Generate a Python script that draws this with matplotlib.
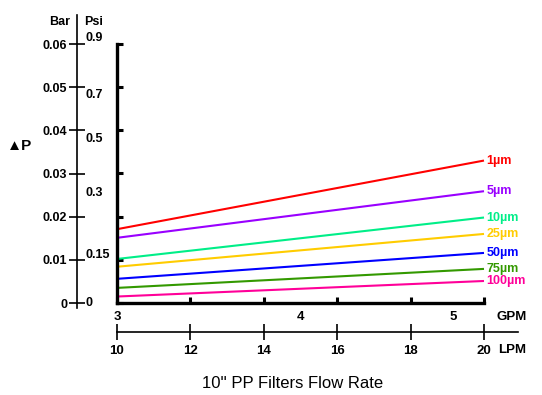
import matplotlib
matplotlib.use("Agg")
import matplotlib.pyplot as plt

plt.rcParams['font.family'] = ['Liberation Sans', 'DejaVu Sans']

# flow rate (LPM) and pressure drop (bar) at each end of the range
lpm = [10, 20]
grades = ['1µm', '5µm', '10µm', '25µm', '50µm', '75µm', '100µm']
dp_start = [0.0171, 0.0151, 0.0102, 0.0084, 0.0056, 0.0035, 0.0015]
dp_end = [0.0330, 0.0259, 0.0198, 0.0160, 0.0116, 0.0079, 0.0051]
colors = ['#ff0000', '#9900ff', '#00ee88', '#ffcc00', '#0000ff', '#339900', '#ff0099']

bar_ticks = [0, 0.01, 0.02, 0.03, 0.04, 0.05, 0.06]
psi_labels = ['0', '0.15', '0.3', '0.5', '0.7', '0.9']
psi_pos = [0, 0.0111, 0.0255, 0.0380, 0.0482, 0.0614]
lpm_ticks = [10, 12, 14, 16, 18, 20]
gpm_labels = ['3', '4', '5']
gpm_pos = [10, 15, 19.16]

W, H = 542, 395
fig = plt.figure(figsize=(W / 100, H / 100), dpi=100)


def box(x0, y0, x1, y1):
    # pixel box (top-left origin) -> figure fraction
    return [x0 / W, 1 - y1 / H, (x1 - x0) / W, (y1 - y0) / H]


# main chart
ax = fig.add_axes(box(117, 44, 484, 303))
ax.patch.set_visible(False)
ax.set_zorder(3)
for s, c, e, lab in zip(dp_start, colors, dp_end, grades):
    ax.plot(lpm, [s, e], color=c, lw=1.5, solid_capstyle='butt', clip_on=False)
    ax.text(20.06, e, lab, color=c, fontsize=9, fontweight='bold', va='center', ha='left')
ax.set_xlim(10, 20)
ax.set_ylim(0, 0.06)
for sp in ['top', 'right']:
    ax.spines[sp].set_visible(False)
for sp in ['left', 'bottom']:
    ax.spines[sp].set_linewidth(2.4)
    ax.spines[sp].set_capstyle('projecting')
ax.set_xticks(lpm_ticks)
ax.set_yticks(bar_ticks)
ax.tick_params(direction='in', length=4, width=2.2, labelleft=False, labelbottom=False)

# bar / psi scale
y_lo = -5 * 0.06 / 259
y_hi = 0.06 + 29 * 0.06 / 259
ax2 = fig.add_axes(box(77, 15, 80, 308))
ax2.patch.set_visible(False)
ax2.set_ylim(y_lo, y_hi)
ax2.set_xlim(0, 1)
for sp in ['top', 'right', 'bottom']:
    ax2.spines[sp].set_visible(False)
ax2.spines['left'].set_linewidth(1.2)
ax2.set_xticks([])
ax2.set_yticks(bar_ticks)
ax2.set_yticklabels(['0' if v == 0 else f'{v:.2f}' for v in bar_ticks])
ax2.tick_params(axis='y', direction='inout', length=12, width=1.2, pad=1,
                labelsize=9)
for t in ax2.get_yticklabels():
    t.set_fontweight('bold')
for lab, p in zip(psi_labels, psi_pos):
    ax2.annotate(lab, (0, p), xycoords=ax2.get_yaxis_transform(),
                 xytext=(6, 0), textcoords='offset points',
                 fontsize=9, fontweight='bold', va='center', ha='left')
fig.text(60 / W, 1 - 22 / H, 'Bar', fontsize=9, fontweight='bold', ha='center', va='center')
fig.text(94 / W, 1 - 22 / H, 'Psi', fontsize=9, fontweight='bold', ha='center', va='center')
fig.text(20 / W, 1 - 146 / H, '▲P', fontsize=11, fontweight='bold', ha='center', va='center')

# GPM / LPM scale
ax3 = fig.add_axes(box(117, 300, 518, 332))
ax3.patch.set_visible(False)
ax3.set_xlim(10, 10 + 401 / 36.7)
ax3.set_ylim(0, 1)
for sp in ['top', 'right', 'left']:
    ax3.spines[sp].set_visible(False)
ax3.spines['bottom'].set_linewidth(1.2)
ax3.set_yticks([])
ax3.set_xticks(lpm_ticks)
ax3.tick_params(axis='x', direction='inout', length=12, width=1.2, pad=3, labelsize=9.5)
for t in ax3.get_xticklabels():
    t.set_fontweight('bold')
for lab, p in zip(gpm_labels, gpm_pos):
    ax3.text(p, 0.47, lab, fontsize=9.5, fontweight='bold', ha='center', va='center')
fig.text(512 / W, 1 - 317 / H, 'GPM', fontsize=9.5, fontweight='bold', ha='center', va='center')
fig.text(512 / W, 1 - 350 / H, 'LPM', fontsize=9.5, fontweight='bold', ha='center', va='center')

fig.text(293 / W, 1 - 383 / H, "10'' PP Filters Flow Rate", fontsize=12, ha='center', va='center')

fig.savefig('out.png', dpi=100)
